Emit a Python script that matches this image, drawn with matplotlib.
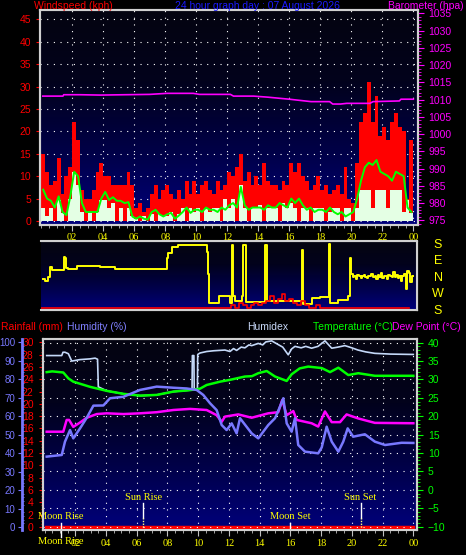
import numpy as np
import matplotlib
matplotlib.use('Agg')
import matplotlib.pyplot as plt
import matplotlib.transforms as mtransforms
from matplotlib.colors import LinearSegmentedColormap
from matplotlib.ticker import MultipleLocator

W, H = 466, 555

# wind, one value per quarter hour (kph)
gust = [15, 11, 8, 9, 14, 6, 10, 12, 22, 18, 7, 5, 5, 7, 11, 13,
        10, 10, 8, 8, 8, 8, 11, 8, 3, 4, 2, 3, 6, 8, 5, 7,
        8, 6, 5, 7, 5, 9, 6, 9, 6, 8, 9, 7, 6, 9, 7, 8,
        11, 10, 12, 15, 9, 11, 8, 10, 8, 13, 9, 8, 8, 7, 9, 8,
        13, 11, 13, 10, 9, 7, 8, 10, 7, 8, 6, 7, 8, 6, 12, 5,
        4, 13, 22, 24, 31, 22, 28, 19, 21, 18, 22, 24, 21, 20, 5, 18]
avg = [7, 5, 4.5, 3, 5.5, 2, 1.3, 5.5, 11, 10, 4, 2, 2, 2, 2, 5,
       6.5, 4.7, 5.3, 4.5, 4.5, 4, 4.2, 1, 0.5, 1, 0.5, 0.3, 2, 2.5, 1.5, 1,
       1.5, 1.8, 0.5, 1.2, 2, 3, 1.8, 2.5, 2.5, 2, 3, 2.5, 2.5, 2, 3, 2.5,
       3.5, 4, 3, 7.6, 3.5, 2.5, 3, 3, 3, 2.5, 3.5, 3, 3, 4, 3.5, 3,
       5, 4, 5, 3.5, 2.5, 3, 2, 2.5, 2.5, 2, 3, 2, 1.5, 2, 1, 1.5,
       2, 5, 9, 12, 13, 12.5, 13.6, 11, 10.5, 10, 9, 11, 10.5, 10, 3, 2]
speed = [3, 1, 3, 0, 4.7, 1.8, 0, 5, 11, 8, 2, 0, 2, 0, 2, 4.7,
         4.7, 3, 4, 0, 3, 0, 3, 1, 0.5, 0, 1, 0, 1.5, 0, 1.5, 1,
         1, 2, 0, 1.5, 3, 0, 3, 2, 3, 0, 3, 2, 3, 3, 0, 5,
         3, 5, 0, 8, 3, 0, 3, 3, 3.5, 0, 3, 3, 3, 0, 4, 3,
         4, 3, 0, 3, 3, 0, 3, 3, 3, 0, 2, 3, 3, 0, 3, 3,
         0, 3, 7, 7, 7, 3, 7, 7, 7, 3, 7, 7, 7, 2, 4.7, 1.8]
quarter_t = np.arange(len(gust)) * 0.25

baro_t = [0.1, 1.4, 1.45, 2.5, 3.8, 7.0, 8.1, 9.8, 10.2, 12.2, 12.4, 13.7, 14.6,
          16.0, 17.4, 18.6, 18.8, 19.3, 19.7, 21.2, 21.4, 23.1, 23.2, 24.0]
baro = [1011.0, 1011.0, 1011.4, 1011.4, 1011.3, 1011.5, 1011.8, 1011.8, 1011.5,
        1011.5, 1011.0, 1011.0, 1010.7, 1010.1, 1009.4, 1009.4, 1008.7, 1008.7,
        1008.9, 1008.9, 1009.4, 1009.6, 1010.1, 1010.1]

# wind direction (deg, S=180 top ... S=-180 bottom)
dir_t = [0.1, 0.25, 0.4, 0.56, 0.7, 1.45, 1.52, 1.62, 1.7, 2.3, 3.8, 4.75, 8.1, 8.2,
         8.45, 8.8, 10.7, 10.75, 10.8, 11.45, 12.15, 12.3, 12.36, 12.5, 12.95, 13.0,
         13.2, 14.42, 14.54, 16.8, 16.86, 17.45, 18.0, 18.55, 18.62, 19.15, 19.8, 19.92,
         20.0, 20.1, 20.2, 20.3, 20.4, 20.5, 20.6, 20.7, 20.8, 20.9, 21.0, 21.1, 21.2,
         21.3, 21.4, 21.5, 21.6, 21.7, 21.8, 21.9, 22.0, 22.1, 22.2, 22.3, 22.4, 22.5,
         22.6, 22.7, 22.8, 22.9, 23.0, 23.1, 23.2, 23.3, 23.4, 23.5, 23.6, 23.7, 23.8,
         23.9, 24.0]
dir_deg = [-5, -15, 5, 62, 44, 113, 110, 55, 49, 65, 58, 49, 107, 135,
           171, 180, 144, 20, -138, -102, -138, 180, -102, -129, -102, 180,
           -133, 180, -125, 153, -142, -111, -107, 185, -138, -120, -100, 107,
           20, 5, 12, -5, 15, 8, 0, 10, 18, 5, -3, 12, 8,
           20, 3, 10, -8, 15, 5, 25, 0, 12, 8, -5, 18, 10,
           3, 30, 5, 15, 0, 10, -15, 8, 20, -60, 35, 28, -20,
           10, 10]
dir_red = [1, 1, 1, 1, 1, 1, 1, 1, 1, 1, 1, 1, 1, 1, 1, 1,
           1, 1, 1, 1, 1, 1, 1, 1, 1, 1, 1, 1, 1, 1, 1, 1,
           1, 1, 1, 1, 1, 1, 1, 1, 1, 1, 1, 1, 1, 1, 1, 1,
           1, 2, 1, 3, 2, 1, 2, 3, 2, 3, 4, 6, 3, 5, 7, 4,
           5, 3, 2, 4, 2, 1, 1, 2, 1, 1, 1, 1, 1, 1, 1, 1,
           1, 1, 1, 1, 1, 1, 1, 1, 1, 1, 1, 1, 1, 1, 1, 1]

# bottom panel
temp_t = [0.14, 0.5, 1.22, 1.55, 1.87, 2.96, 4.05, 5.13, 6.21, 7.3, 8.38, 9.47, 10.12,
          10.55, 11.42, 12.07, 12.5, 13.04, 13.5, 13.91, 14.46, 15.0, 15.76, 16.08,
          16.6, 17.16, 18.04, 18.58, 19.12, 19.77, 20.42, 21.5, 24.0]
temp = [32.0, 32.2, 31.9, 30.3, 29.4, 28.0, 26.9, 26.1, 25.6, 25.8, 26.7, 27.1, 27.5,
        28.5, 29.4, 29.9, 30.3, 30.8, 30.9, 31.7, 32.3, 30.8, 29.6, 31.4,
        33.0, 33.5, 33.1, 32.0, 33.2, 31.2, 31.7, 31.0, 31.0]
humidex_t = [0.14, 1.12, 1.2, 1.33, 1.55, 1.77, 2.3, 2.96, 3.29, 3.45, 3.5, 4.05, 5.13,
             6.21, 7.3, 8.38, 9.47, 9.6, 9.62, 9.72, 9.74, 9.95, 9.97, 10.12, 10.55,
             11.0, 11.74, 12.07, 12.3, 12.5, 12.8, 13.04, 13.3, 13.48, 13.91, 14.2, 14.4,
             14.78, 15.2, 15.5, 15.86, 16.08, 16.3, 16.7, 17.0, 17.38, 17.8, 18.25,
             18.69, 19.1, 19.55, 20.0, 20.4, 20.9, 21.5, 22.5, 24.0]
humidex = [36.5, 36.5, 37.4, 37.4, 37.0, 35.0, 35.4, 35.6, 35.8, 35.5, 28.0, 26.9, 26.1,
           25.6, 25.8, 26.7, 27.1, 27.2, 36.5, 36.5, 27.3, 27.5, 36.8, 37.2, 37.6,
           37.8, 38.0, 37.6, 38.4, 37.9, 38.8, 38.6, 39.4, 39.2, 39.8, 39.4, 40.2,
           40.5, 39.5, 38.8, 36.7, 38.3, 39.0, 38.6, 39.0, 38.5, 39.0, 40.5,
           38.5, 38.8, 39.2, 38.6, 38.0, 37.5, 37.1, 36.9, 36.8]
dew_t = [0.14, 1.22, 1.44, 1.6, 1.87, 2.31, 2.75, 3.4, 4.05, 5.13, 6.21, 7.3, 8.38,
         9.47, 10.55, 11.2, 11.53, 11.74, 12.61, 13.48, 14.56, 15.21, 15.47, 15.76,
         16.19, 16.41, 17.38, 17.81, 18.25, 18.69, 19.23, 19.66, 20.42, 21.5, 24.0]
dew = [15.8, 15.8, 19.0, 19.0, 17.1, 18.3, 19.6, 20.6, 20.8, 20.6, 20.8, 21.1, 21.7,
       22.0, 21.7, 20.3, 18.5, 19.9, 20.5, 19.6, 20.8, 21.1, 24.4, 20.3,
       21.4, 19.0, 18.1, 17.2, 21.3, 18.4, 18.4, 20.5, 19.4, 18.2, 18.1]
hum_t = [0.14, 1.12, 1.33, 1.66, 1.87, 2.31, 2.75, 3.18, 3.83, 4.26, 5.13, 6.21, 7.3,
         8.38, 9.25, 9.9, 10.33, 10.77, 11.2, 11.53, 11.85, 12.18, 12.5, 12.72, 13.48,
         13.91, 14.56, 15.0, 15.32, 15.54, 15.76, 16.08, 16.3, 16.51, 16.95, 17.81,
         18.04, 18.36, 18.69, 19.12, 19.44, 19.73, 20.09, 20.85, 21.5, 22.16, 23.24, 24.0]
hum = [38.1, 39.0, 46.2, 52.5, 48.0, 53.4, 59.2, 65.7, 65.8, 69.7, 70.5, 74.2, 76.0,
       75.4, 75.0, 74.2, 71.5, 67.0, 63.3, 55.2, 52.5, 56.1, 50.7, 58.9, 50.7,
       48.0, 55.2, 58.9, 65.1, 69.7, 56.1, 51.6, 58.9, 44.4, 40.8, 39.9,
       43.1, 54.3, 46.2, 40.8, 46.2, 53.4, 48.9, 50.2, 46.2, 44.4, 45.6, 45.5]
rain_t = [0.1, 24.0]
rain = [0.0, 0.0]

events = ['Moon Rise', 'Sun Rise', 'Moon Set', 'Sun Set']
event_t = [1.07, 6.43, 15.97, 20.57]

hour_ticks = [2, 4, 6, 8, 10, 12, 14, 16, 18, 20, 22, 24]
hour_labels = ['02', '04', '06', '08', '10', '12', '14', '16', '18', '20', '22', '00']

plt.rcParams['font.family'] = ['Liberation Sans', 'DejaVu Sans']
plt.rcParams['font.size'] = 7

fig = plt.figure(figsize=(W / 100, H / 100), dpi=100, facecolor='black')
bg = LinearSegmentedColormap.from_list('bg', ['#040410', '#02021c', '#000048', '#00007c'])
grid_kw = dict(color='white', linestyle=(0, (1, 5)), linewidth=0.8)
frame = '#d0d0d0'
serif = 'Liberation Serif'


def px_axes(x0, y0, x1, y1):
    return fig.add_axes([x0 / W, 1 - y1 / H, (x1 - x0) / W, (y1 - y0) / H])


def backdrop(ax):
    ax.set_facecolor('black')
    ax.imshow(np.linspace(0, 1, 256).reshape(-1, 1), cmap=bg, aspect='auto',
              extent=[0, 1, 0, 1], transform=ax.transAxes, zorder=0)
    for s in ax.spines.values():
        s.set_color(frame)
        s.set_linewidth(1.5)


def hour_axis(ax, pad):
    ax.set_xticks(hour_ticks)
    ax.set_xticklabels(hour_labels)
    ax.xaxis.set_minor_locator(MultipleLocator(0.5))
    ax.tick_params(axis='x', which='major', colors='#c0c0c0', length=4, labelcolor='#ffff00',
                   labelsize=7.5, pad=pad)
    ax.tick_params(axis='x', which='minor', colors='#c0c0c0', length=2)
    for lab in ax.get_xticklabels():
        lab.set_family(serif)


# ---------------- top panel: wind + barometer
ax1 = px_axes(40, 10, 418, 225)
backdrop(ax1)
ax1.bar(quarter_t, gust, width=0.25, align='edge', color='#ff0000', linewidth=0, zorder=2)
ax1.bar(quarter_t, speed, width=0.25, align='edge', color='#e4ffe4', linewidth=0, zorder=3)
ax1.plot(quarter_t + 0.125, avg, color='#00ff00', lw=1.4, zorder=4)
ax1.set_xlim(-0.08, 24.3)
ax1.set_ylim(-0.9, 47.1)
ax1.set_yticks(range(0, 50, 5))
ax1.tick_params(axis='y', colors='#ff0000', length=3, labelcolor='#ff0000', labelsize=7.5)
hour_axis(ax1, 1.5)
ax1.grid(True, which='major', **grid_kw)
for gl in ax1.get_xgridlines() + ax1.get_ygridlines():
    gl.set_zorder(1)

ax1b = ax1.twinx()
ax1b.plot(baro_t, baro, color='#ff00ff', lw=1.2, zorder=5)
ax1b.set_ylim(973.64, 1035.96)
ax1b.set_yticks(range(975, 1040, 5))
ax1b.yaxis.set_minor_locator(MultipleLocator(1))
ax1b.tick_params(axis='y', which='major', colors='#ff00ff', length=4, labelcolor='#ff00ff', labelsize=7.5)
ax1b.tick_params(axis='y', which='minor', colors='#ff00ff', length=2)
for s in ax1b.spines.values():
    s.set_color(frame)
    s.set_linewidth(1.5)

fig.text(34 / W, 1 - 6 / H, 'Windspeed (kph)', color='#ff0000', fontsize=7.5, va='center')
fig.text(257 / W, 1 - 6 / H, '24 hour graph day : 07 August 2026', color='#1a1aff',
         fontsize=7.5, va='center', ha='center')
fig.text(464 / W, 1 - 6 / H, 'Barometer (hpa)', color='#ff00ff', fontsize=7.5, va='center', ha='right')

# ---------------- middle panel: wind direction
ax2 = px_axes(41, 241, 417, 310)
backdrop(ax2)
ax2.plot(dir_t, dir_deg, color='#ffff00', lw=1.4, drawstyle='steps-post', zorder=3)
ax2.set_xlim(-0.02, 24.24)
ax2.set_ylim(-176, 202)
ax2.set_xticks([])
ax2.set_yticks([])
ax2.spines['left'].set_visible(False)
ax2b = ax2.twinx()
ax2b.step(quarter_t, dir_red, where='post', color='#ff0000', lw=1.2, zorder=2)
ax2b.set_ylim(0, 30)
ax2b.set_yticks([])
ax2b.spines['left'].set_visible(False)
for s in ['top', 'bottom', 'right']:
    ax2b.spines[s].set_color(frame)
trans2 = mtransforms.blended_transform_factory(ax2.transAxes, ax2.transData)
for lab, deg in zip(['S', 'E', 'N', 'W', 'S'], [180, 90, 0, -90, -180]):
    ax2.text(1.056, deg, lab, color='#ffff00', fontsize=9, ha='center', va='center',
             transform=trans2, clip_on=False)

# ---------------- bottom panel: rain, humidity, temperature
ax3 = px_axes(42.7, 339.3, 417.3, 530)
backdrop(ax3)
ax3.plot(rain_t, rain, color='#ff0000', lw=2.5, zorder=6)
ax3.set_xlim(-0.12, 24.26)
ax3.set_ylim(-0.49, 30.49)
ax3.set_yticks(range(0, 32, 2))
ax3.yaxis.set_minor_locator(MultipleLocator(0.5))
ax3.tick_params(axis='y', which='major', colors='#ff0000', length=3, labelcolor='#ff0000', labelsize=7.5)
ax3.tick_params(axis='y', which='minor', colors='#ff0000', length=1.5)
hour_axis(ax3, 2.5)

ax3t = ax3.twinx()
ax3t.set_ylim(-10.92, 40.92)
ax3t.set_yticks(range(-10, 45, 5))
ax3t.yaxis.set_minor_locator(MultipleLocator(1))
ax3t.tick_params(axis='y', which='major', colors='#00ff00', length=4, labelcolor='#00ff00', labelsize=7.5)
ax3t.tick_params(axis='y', which='minor', colors='#00ff00', length=2)
ax3t.grid(True, axis='y', **grid_kw)
ax3t.plot(humidex_t, humidex, color='#c4d8f8', lw=1.2, zorder=3)
ax3t.plot(temp_t, temp, color='#00ff00', lw=1.8, zorder=4)
ax3t.plot(dew_t, dew, color='#ff00ff', lw=1.8, zorder=4)
for s in ax3t.spines.values():
    s.set_color(frame)
    s.set_linewidth(1.5)

ax3h = ax3.twinx()
ax3h.plot(hum_t, hum, color='#7878ff', lw=1.8, zorder=4)
ax3h.set_ylim(-1.62, 101.62)
ax3h.set_yticks(range(0, 110, 10))
ax3h.yaxis.set_minor_locator(MultipleLocator(2))
ax3h.yaxis.set_ticks_position('left')
ax3h.spines['left'].set_position(('axes', -0.056))
ax3h.spines['left'].set_visible(True)
ax3h.spines['left'].set_color('#7878ff')
ax3h.spines['left'].set_linewidth(2)
ax3h.spines['right'].set_visible(False)
ax3h.spines['top'].set_visible(False)
ax3h.spines['bottom'].set_visible(False)
ax3h.tick_params(axis='y', which='major', colors='#7878ff', length=3, labelcolor='#7878ff',
                 labelsize=7, pad=1.5)
ax3h.tick_params(axis='y', which='minor', colors='#7878ff', length=1.5, direction='in')

# vertical grid on bottom panel
for h in hour_ticks:
    ax3.axvline(h, **grid_kw, zorder=1)

# sun / moon markers
xt = ax3.get_xaxis_transform()
for name, t in zip(events, event_t):
    if name.startswith('Moon'):
        ax3.axvline(t, ymin=0, ymax=0.037, color='white', lw=1, zorder=7)
        ax3.text(t, 0.072, name, transform=xt, color='#ffff00',
                 fontsize=7.5, ha='center', va='center', family=serif, zorder=8)
    else:
        ax3.axvline(t, ymin=0.063, ymax=0.142, color='white', lw=1, zorder=7)
        ax3.axvline(t, ymin=0, ymax=0.063, color='#ffff80', lw=1, linestyle=(0, (1, 1)), zorder=7)
        ax3.text(t, 0.172, name, transform=xt, color='#ffff00',
                 fontsize=7.5, ha='center', va='center', family=serif, zorder=8)

# moon rise marker on the time axis
ax3.plot([event_t[0], event_t[0]], [0, -0.035], transform=xt, color='white', lw=1, clip_on=False)
ax3.text(event_t[0], -0.062, 'Moon Rise', transform=xt, color='#ffff00', fontsize=7.5,
         ha='center', va='center', family=serif, clip_on=False)

fig.text(1 / W, 1 - 326.7 / H, 'Rainfall (mm)', color='#ff0000', fontsize=7.5, va='center')
fig.text(66.7 / W, 1 - 326.7 / H, 'Humidity (%)', color='#8080ff', fontsize=7.5, va='center')
fig.text(246.7 / W, 1 - 326.7 / H, 'Humidex', color='#c8d8f8', fontsize=7.5, va='center')
fig.text(312.7 / W, 1 - 326.7 / H, 'Temperature (°C)', color='#00ff00', fontsize=7.5, va='center')
fig.text(392.5 / W, 1 - 326.7 / H, 'Dew Point (°C)', color='#ff00ff', fontsize=7.5, va='center')

fig.savefig('out.png', dpi=100, facecolor='black')
